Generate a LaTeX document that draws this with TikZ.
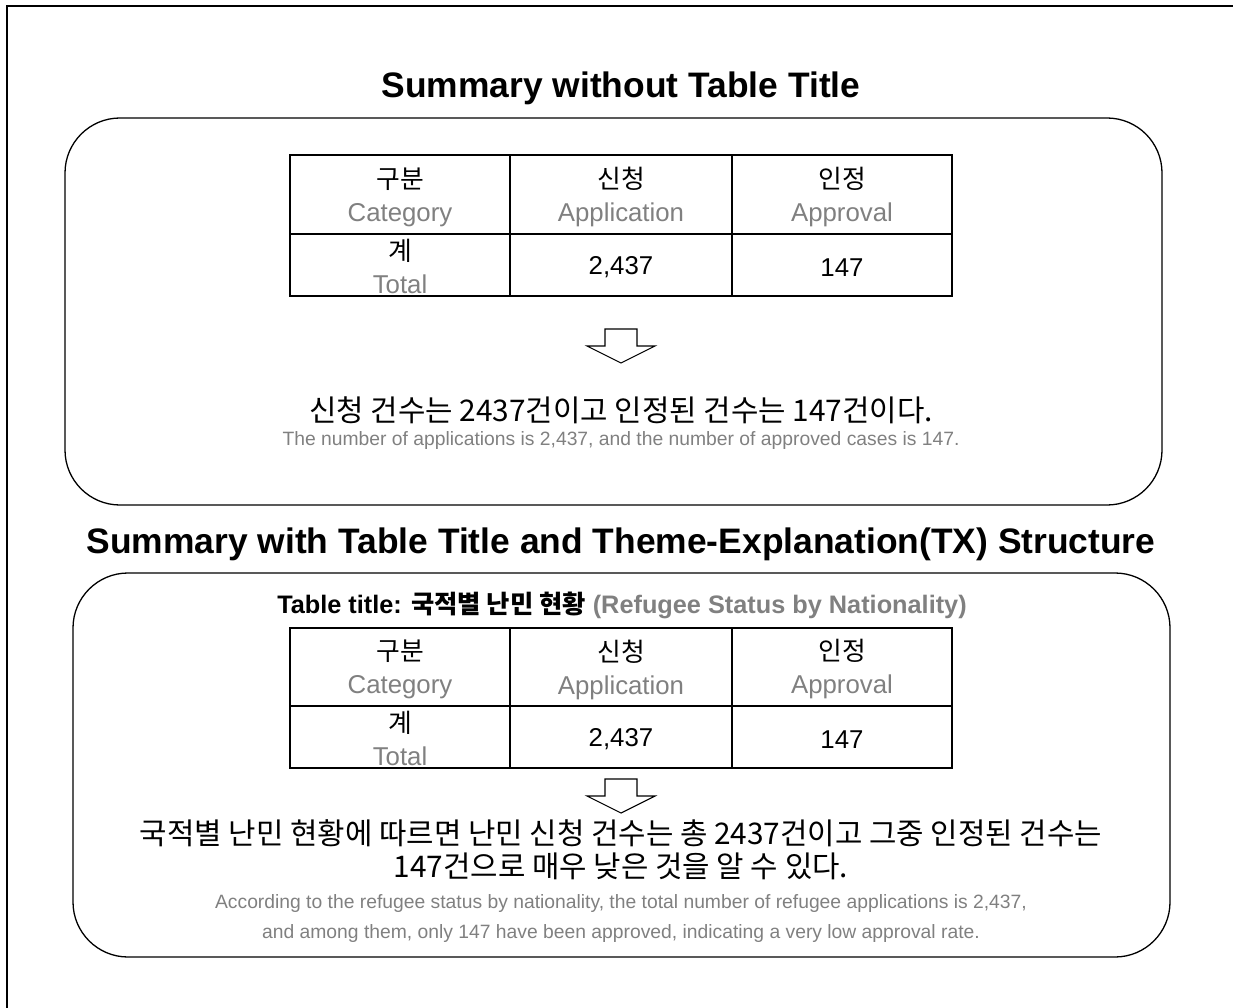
\documentclass[tikz,border=0pt]{standalone}
\usepackage{fontspec}
\setmainfont{Liberation Sans}
\newfontfamily\kr{Noto Sans CJK KR}
\definecolor{txtgray}{RGB}{128,128,128}
\tikzset{
  frameline/.style={line width=1.2pt},
  bigbox/.style={draw, line width=1.3pt, rounded corners=55pt, inner sep=0pt},
  cellbox/.style={draw, line width=1.2pt, inner sep=0pt},
  celltext/.style={align=center, inner sep=0pt, font=\fontsize{25.8}{33}\selectfont},
  hollowarrow/.style={draw, line width=1.1pt, fill=white},
  titletext/.style={font=\fontsize{35.4}{40}\selectfont\bfseries, inner sep=0pt, anchor=base},
  krsent/.style={align=center, inner sep=0pt, font=\kr\fontsize{29.8}{33}\selectfont},
  ensent/.style={align=center, inner sep=0pt, text=txtgray, font=\fontsize{19.3}{30}\selectfont},
  tabtitle/.style={inner sep=0pt, font=\fontsize{25.3}{28}\selectfont\bfseries},
}
\begin{document}
\begin{tikzpicture}[x=1pt, y=-1pt]
\useasboundingbox (0,0) rectangle (1233,1008);
% outer frame (only left and top edges visible)
\coordinate (fA) at (7,1015);
\coordinate (fB) at (7,6);
\coordinate (fC) at (1240,6);
\draw[frameline] (fA) -- (fB) -- (fC);

% ---------- Part 1 ----------
\node[titletext] (t1) at (621,98) {Summary without Table Title};
\node[bigbox, minimum width=1097pt, minimum height=387pt] (box1) at (613.5,311.5) {};

\node[cellbox, minimum width=220pt, minimum height=79pt] (a11) at (400,194.5) {};
\node[cellbox, minimum width=222pt, minimum height=79pt] (a12) at (621,194.5) {};
\node[cellbox, minimum width=220pt, minimum height=79pt] (a13) at (842,194.5) {};
\node[cellbox, minimum width=220pt, minimum height=62pt] (a21) at (400,265) {};
\node[cellbox, minimum width=222pt, minimum height=62pt] (a22) at (621,265) {};
\node[cellbox, minimum width=220pt, minimum height=62pt] (a23) at (842,265) {};
\node[celltext] (a11t) at ([yshift=-2.5pt]a11.center) {{\kr 구분}\\\textcolor{txtgray}{Category}};
\node[celltext] (a12t) at ([yshift=-2.5pt]a12.center) {{\kr 신청}\\\textcolor{txtgray}{Application}};
\node[celltext] (a13t) at ([yshift=-2.5pt]a13.center) {{\kr 인정}\\\textcolor{txtgray}{Approval}};
\node[celltext] (a21t) at ([yshift=-1pt]a21.center) {{\kr 계}\\\textcolor{txtgray}{Total}};
\node[celltext] (a22t) at ([yshift=-2.5pt]a22.center) {2,437};
\node[celltext] (a23t) at ([yshift=-2.5pt]a23.center) {147};

\coordinate (ar1) at (621,329);
\draw[hollowarrow, shift={(ar1)}] (-16,0) -- (16,0) -- (16,17) -- (34,17) -- (0,34) -- (-34,17) -- (-16,17) -- cycle;

\node[krsent] (s1) at (621,410) {신청 건수는 2437건이고 인정된 건수는 147건이다.};
\node[ensent] (e1) at (621,441) {The number of applications is 2,437, and the number of approved cases is 147.};

% ---------- Part 2 ----------
\node[titletext] (t2) at (621,553) {Summary with Table Title and Theme-Explanation(TX) Structure};
\node[bigbox, minimum width=1097pt, minimum height=384pt] (box2) at (621.5,765) {};

\node[tabtitle] (tt) at (622,605) {Table title: {\kr\bfseries 국적별 난민 현황} \textcolor{txtgray}{(Refugee Status by Nationality)}};

\node[cellbox, minimum width=220pt, minimum height=78pt] (b11) at (400,667) {};
\node[cellbox, minimum width=222pt, minimum height=78pt] (b12) at (621,667) {};
\node[cellbox, minimum width=220pt, minimum height=78pt] (b13) at (842,667) {};
\node[cellbox, minimum width=220pt, minimum height=62pt] (b21) at (400,737) {};
\node[cellbox, minimum width=222pt, minimum height=62pt] (b22) at (621,737) {};
\node[cellbox, minimum width=220pt, minimum height=62pt] (b23) at (842,737) {};
\node[celltext] (b11t) at ([yshift=-2.5pt]b11.center) {{\kr 구분}\\\textcolor{txtgray}{Category}};
\node[celltext] (b12t) at ([yshift=-2.5pt]b12.center) {{\kr 신청}\\\textcolor{txtgray}{Application}};
\node[celltext] (b13t) at ([yshift=-2.5pt]b13.center) {{\kr 인정}\\\textcolor{txtgray}{Approval}};
\node[celltext] (b21t) at ([yshift=-1pt]b21.center) {{\kr 계}\\\textcolor{txtgray}{Total}};
\node[celltext] (b22t) at ([yshift=-2.5pt]b22.center) {2,437};
\node[celltext] (b23t) at ([yshift=-2.5pt]b23.center) {147};

\coordinate (ar2) at (621,779);
\draw[hollowarrow, shift={(ar2)}] (-16,0) -- (16,0) -- (16,17) -- (34,17) -- (0,34) -- (-34,17) -- (-16,17) -- cycle;

\node[krsent] (s2) at (621,850) {국적별 난민 현황에 따르면 난민 신청 건수는 총 2437건이고 그중 인정된 건수는\\147건으로 매우 낮은 것을 알 수 있다.};
\node[ensent] (e2) at (621,918) {According to the refugee status by nationality, the total number of refugee applications is 2,437,\\and among them, only 147 have been approved, indicating a very low approval rate.};
\end{tikzpicture}
\end{document}
